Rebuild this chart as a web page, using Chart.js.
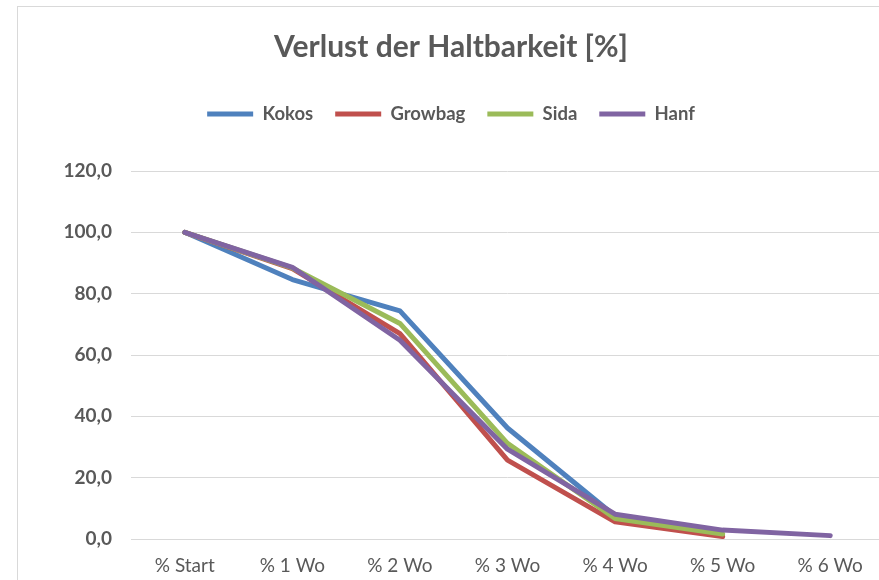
<!DOCTYPE html>
<html>
<head>
<meta charset="utf-8">
<script src="https://cdn.jsdelivr.net/npm/chart.js@4.4.1/dist/chart.umd.min.js"></script>
<style>
  html, body { margin: 0; padding: 0; background: #fff; overflow: hidden; }
  #frame {
    position: absolute; left: 17px; top: 6px;
    border-left: 1px solid #d9d9d9; border-top: 1px solid #d9d9d9;
  }
  canvas { display: block; }
</style>
</head>
<body>
<div id="frame"><canvas id="chart" width="868" height="573"></canvas></div>
<script>
// Chart data
const categories = ['% Start', '% 1 Wo', '% 2 Wo', '% 3 Wo', '% 4 Wo', '% 5 Wo', '% 6 Wo'];
const kokos   = [100, 84.6, 74.4, 36.2, 7.5, null, null];
const growbag = [100, 88.2, 67.0, 25.7, 5.6, 0.8, null];
const sida    = [100, 88.4, 70.3, 31.2, 6.7, 1.6, null];
const hanf    = [100, 88.6, 64.8, 29.3, 8.1, 2.9, 1.1];
const yTicks  = [0, 20, 40, 60, 80, 100, 120];

const textColor = '#595959';
const gridColor = '#d9d9d9';

// makes a line dataset with the Excel look
function series(label, data, color, order) {
  return {
    label: label,
    data: data,
    borderColor: color,
    backgroundColor: color,
    borderWidth: 5,
    borderCapStyle: 'round',
    borderJoinStyle: 'round',
    pointRadius: 0,
    pointHoverRadius: 0,
    tension: 0,
    order: order
  };
}

// extra room between legend and plot area
const legendSpacer = {
  id: 'legendSpacer',
  beforeLayout(chart) {
    const lg = chart.legend;
    if (lg && !lg._spaced) {
      const fit = lg.fit;
      lg.fit = function () {
        fit.call(this);
        this.height += 37.75;
      };
      lg._spaced = true;
    }
  }
};

new Chart(document.getElementById('chart'), {
  type: 'line',
  data: {
    labels: categories,
    datasets: [
      series('Kokos', kokos, '#4f81bd', 3),
      series('Growbag', growbag, '#c0504d', 2),
      series('Sida', sida, '#9bbb59', 1),
      series('Hanf', hanf, '#8064a2', 0)
    ]
  },
  options: {
    responsive: false,
    animation: false,
    events: [],
    layout: { padding: { left: 0, right: 2, top: 0, bottom: 0 } },
    plugins: {
      title: {
        display: true,
        text: 'Verlust der Haltbarkeit [%]',
        color: textColor,
        font: { family: 'Lato', size: 30, weight: 'bold' },
        padding: { top: 22, bottom: 17.75 }
      },
      legend: {
        position: 'top',
        labels: {
          color: textColor,
          font: { family: 'Lato', size: 18.5, weight: 'bold' },
          usePointStyle: true,
          pointStyle: 'line',
          pointStyleWidth: 46,
          padding: 22,
          // keep the legend in dataset order, not draw order
          sort: (a, b) => a.datasetIndex - b.datasetIndex
        }
      },
      tooltip: { enabled: false }
    },
    scales: {
      x: {
        offset: true,
        grid: { display: false, drawTicks: false },
        border: { display: true, color: gridColor, width: 1 },
        ticks: {
          color: textColor,
          font: { family: 'Lato', size: 19 },
          padding: 15.6,
          maxRotation: 0
        },
        afterFit(scale) { scale.height = 41; }
      },
      y: {
        min: 0,
        max: 120,
        grid: { color: gridColor, lineWidth: 1, drawTicks: false },
        border: { display: false },
        afterBuildTicks(scale) {
          scale.ticks = yTicks.map(v => ({ value: v }));
        },
        ticks: {
          color: textColor,
          font: { family: 'Lato', size: 19, weight: 'bold' },
          padding: 19,
          callback: v => v.toFixed(1).replace('.', ',')
        },
        afterFit(scale) { scale.width = 113; }
      }
    }
  },
  plugins: [legendSpacer]
});
</script>
</body>
</html>
